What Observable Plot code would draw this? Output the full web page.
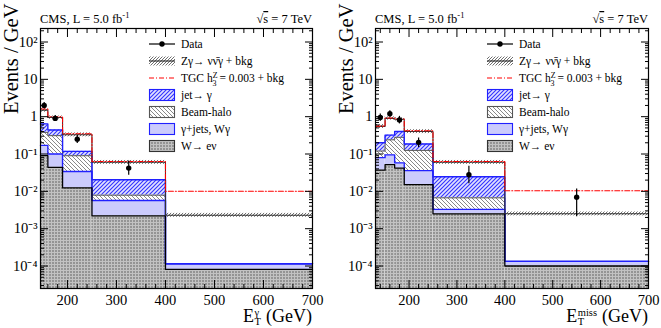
<!DOCTYPE html>
<html>
<head>
<meta charset="utf-8">
<script src="https://cdn.jsdelivr.net/npm/d3@7"></script>
<script src="https://cdn.jsdelivr.net/npm/@observablehq/plot@0.6"></script>
<style>
  body { margin: 0; background: #fff; }
  #wrap { display: flex; width: 661px; height: 328px; }
  #wrap > div { flex: none; }
  #wrap svg { display: block; max-width: none; }
  #wrap svg text { font-family: "Liberation Serif", "Times New Roman", serif; }
</style>
</head>
<body>
<!-- shared fill patterns for the stacked histograms -->
<svg width="0" height="0" style="position:absolute">
  <defs>
    <pattern id="pW" patternUnits="userSpaceOnUse" width="3" height="3">
      <rect width="3" height="3" fill="#949494"/>
      <path d="M0,0.5H3M0.5,0V3" stroke="#c2c2c2" stroke-width="1"/>
    </pattern>
    <pattern id="pHalo" patternUnits="userSpaceOnUse" width="4" height="4">
      <rect width="4" height="4" fill="#ffffff"/>
      <path d="M-1,-1L5,5M-1,3L1,5M3,-1L5,1" stroke="#7a7a7a" stroke-width="0.9"/>
    </pattern>
    <pattern id="pJet" patternUnits="userSpaceOnUse" width="4" height="4">
      <rect width="4" height="4" fill="#e2e2ff"/>
      <path d="M-1,5L5,-1M-1,1L1,-1M3,5L5,3" stroke="#3535ff" stroke-width="1.15"/>
    </pattern>
    <pattern id="pZg" patternUnits="userSpaceOnUse" width="3" height="3">
      <rect width="3" height="3" fill="#ffffff"/>
      <path d="M-1,4L4,-1M-1,1L1,-1M2,4L4,2" stroke="#555555" stroke-width="0.85"/>
    </pattern>
  </defs>
</svg>
<div id="wrap"><div id="left"></div><div id="right"></div></div>
<script>
// ---- photon E_T distribution (events / GeV) ----
const phoEdges   = [145, 160, 190, 250, 400, 700];
const phoWenu    = [0.09, 0.044, 0.0124, 0.0022, 0.000081];
const phoGJets   = [0.08, 0.056, 0.0216, 0.0035, 0.000034];
const phoHalo    = [0.21, 0.21, 0.056, 0.0022, 0];
const phoJetFake = [0.26, 0.13, 0.028, 0.0126, 0];
const phoZg      = [0.86, 0.51, 0.21, 0.0395, 0.00218];
const phoZgUnc   = [0.12, 0.1, 0.12, 0.12, 0.12];
const phoTgc     = [1.6, 1.0, 0.35, 0.063, 0.0101];
const phoDataX   = [152.5, 175, 220, 325];
const phoDataY   = [2.0, 0.9, 0.25, 0.042];
const phoDataLo  = [1.65, 0.74, 0.19, 0.027];
const phoDataHi  = [2.4, 1.08, 0.32, 0.065];

// ---- missing E_T distribution (events / GeV) ----
const metEdges   = [130, 150, 170, 190, 250, 400, 700];
const metWenu    = [0.037, 0.052, 0.042, 0.0152, 0.0025, 0.0001];
const metGJets   = [0.043, 0.043, 0.016, 0.0208, 0.0008, 0.000033];
const metHalo    = [0.04, 0.145, 0.222, 0.089, 0.0034, 0];
const metJetFake = [0.08, 0.08, 0.12, 0.06, 0.0178, 0];
const metZg      = [0.35, 0.58, 0.45, 0.215, 0.0355, 0.00237];
const metZgUnc   = [0.12, 0.1, 0.1, 0.12, 0.12, 0.12];
const metTgc     = [0.56, 0.92, 0.87, 0.42, 0.063, 0.0104];
const metDataX   = [140, 160, 180, 220, 325, 550];
const metDataY   = [0.95, 1.2, 0.82, 0.205, 0.028, 0.007];
const metDataLo  = [0.75, 0.97, 0.64, 0.15, 0.016, 0.0021];
const metDataHi  = [1.18, 1.45, 1.02, 0.27, 0.047, 0.0115];

// ---- axis ticks ----
const yMajor  = [1e-4, 1e-3, 1e-2, 1e-1, 1, 10, 100];
const yLabels = ["10\u207B\u2074", "10\u207B\u00B3", "10\u207B\u00B2", "10\u207B\u00B9", "1", "10", "10\u00B2"];
const xMajor  = [200, 300, 400, 500, 600, 700];
const xLabels = ["200", "300", "400", "500", "600", "700"];

const legendLabels = ["Data", "Z\u03B3\u2192 \u03BD\u03BD\u0304\u03B3 + bkg", "TGC h", "jet\u2192 \u03B3", "Beam-halo", "\u03B3+jets, W\u03B3", "W\u2192 e\u03BD"];

const SERIF = "Liberation Serif, Times New Roman, serif";
const Y_MIN = 2.5e-5, Y_MAX = 230;

const yMinor = [];
for (let d = -5; d <= 2; d++) for (let k = 2; k <= 9; k++) {
  const v = k * Math.pow(10, d);
  if (v > Y_MIN && v < Y_MAX) yMinor.push(v);
}

function cumulate(...layers) {
  const out = [];
  let run = layers[0].map(() => 0);
  for (const l of layers) { run = run.map((r, i) => r + l[i]); out.push(run); }
  return out;
}
function steps(edges, vals) {
  const pts = [];
  vals.forEach((v, i) => { pts.push({x: edges[i], y: v}, {x: edges[i + 1], y: v}); });
  return pts;
}
function bins(edges, lo, hi) {
  return lo.map((l, i) => ({x1: edges[i], x2: edges[i + 1], y1: l, y2: hi[i]})).filter(d => d.y2 > d.y1);
}

function panel(el, cfg) {
  const {edges, wenu, gjets, halo, jetf, zg, unc, tgc, dX, dY, dLo, dHi, xMin, width, mL, mR} = cfg;
  const [c1, c2, c3, c4, tot] = cumulate(wenu, gjets, halo, jetf, zg);
  const floor = wenu.map(() => Y_MIN);
  const data = dX.map((x, i) => ({x, y: dY[i], lo: dLo[i], hi: dHi[i]}));
  const xMinor = d3.range(140, 701, 20).filter(v => v >= xMin && !xMajor.includes(v));

  const chart = Plot.plot({
    width, height: 328,
    marginLeft: mL, marginRight: mR, marginTop: 28, marginBottom: 40,
    x: {domain: [xMin, 700]},
    y: {type: "log", domain: [Y_MIN, Y_MAX]},
    style: {fontFamily: SERIF, fontSize: "14.5px", color: "black", background: "white", overflow: "visible"},
    marks: [
      // stacked backgrounds
      Plot.rect(bins(edges, floor, c1), {x1: "x1", x2: "x2", y1: "y1", y2: "y2", fill: "url(#pW)"}),
      Plot.rect(bins(edges, c1, c2), {x1: "x1", x2: "x2", y1: "y1", y2: "y2", fill: "#cbcbfc"}),
      Plot.rect(bins(edges, c2, c3), {x1: "x1", x2: "x2", y1: "y1", y2: "y2", fill: "url(#pHalo)"}),
      Plot.rect(bins(edges, c3, c4), {x1: "x1", x2: "x2", y1: "y1", y2: "y2", fill: "url(#pJet)"}),
      // uncertainty band on the total expectation
      Plot.rect(bins(edges, tot.map((t, i) => t * (1 - unc[i])), tot.map((t, i) => t * (1 + unc[i]))),
        {x1: "x1", x2: "x2", y1: "y1", y2: "y2", fill: "url(#pZg)"}),
      // histogram outlines
      Plot.line(steps(edges, c3), {x: "x", y: "y", stroke: "#555", strokeWidth: 1}),
      Plot.line(steps(edges, c4), {x: "x", y: "y", stroke: "#2020ff", strokeWidth: 1.4}),
      Plot.line(steps(edges, c2), {x: "x", y: "y", stroke: "#2020ff", strokeWidth: 1.4}),
      Plot.line(steps(edges, c1), {x: "x", y: "y", stroke: "#000", strokeWidth: 1.3}),
      Plot.line(steps(edges, tot), {x: "x", y: "y", stroke: "#333", strokeWidth: 1.1}),
      Plot.line(steps(edges, tgc), {x: "x", y: "y", stroke: "#ff0000", strokeWidth: 1.1, strokeDasharray: "5,2,1,2"}),
      // data with error bars
      Plot.ruleX(data, {x: "x", y1: "lo", y2: "hi", stroke: "black", strokeWidth: 1.2}),
      Plot.dot(data, {x: "x", y: "y", r: 2.7, fill: "black", stroke: "none"}),
      // inward ticks on all four sides
      Plot.axisX(xMajor, {anchor: "bottom", tickSize: -8, tickFormat: () => "", label: null}),
      Plot.axisX(xMinor, {anchor: "bottom", tickSize: -4, tickFormat: () => "", label: null}),
      Plot.axisX(xMajor, {anchor: "top", tickSize: -8, tickFormat: () => "", label: null}),
      Plot.axisX(xMinor, {anchor: "top", tickSize: -4, tickFormat: () => "", label: null}),
      Plot.axisX(xMajor, {anchor: "bottom", tickSize: 0, tickPadding: 6, tickFormat: v => xLabels[xMajor.indexOf(v)], label: null}),
      Plot.axisY(yMajor, {anchor: "left", tickSize: -8, tickFormat: () => "", label: null}),
      Plot.axisY(yMinor, {anchor: "left", tickSize: -4, tickFormat: () => "", label: null}),
      Plot.axisY(yMajor, {anchor: "right", tickSize: -8, tickFormat: () => "", label: null}),
      Plot.axisY(yMinor, {anchor: "right", tickSize: -4, tickFormat: () => "", label: null}),
      Plot.axisY(yMajor, {anchor: "left", tickSize: 0, tickPadding: 3, tickFormat: v => yLabels[yMajor.indexOf(v)], label: null}),
      Plot.frame({stroke: "black", strokeWidth: 1.2})
    ]
  });
  el.appendChild(chart);
  const svg = d3.select(chart);
  const fL = mL, fR = width - mR;

  // header
  const h = svg.append("g").attr("font-size", 12.5).attr("fill", "black").attr("text-anchor", "start");
  const t1 = h.append("text").attr("x", fL).attr("y", 23).text("CMS, L = 5.0 fb");
  t1.append("tspan").attr("font-size", 8.5).attr("dy", -5).text("-1");
  const t2 = h.append("text").attr("x", fR).attr("y", 23).attr("text-anchor", "end");
  t2.append("tspan").text("\u221A");
  t2.append("tspan").attr("text-decoration", "overline").text("s");
  t2.append("tspan").text(" = 7 TeV");

  // y title
  svg.append("text").attr("font-size", 20.5).attr("text-anchor", "start").attr("fill", "black")
    .attr("transform", `translate(${fL - 22},114) rotate(-90)`).text("Events / GeV");

  // x title: E_T with a superscript
  const g = svg.append("g").attr("fill", "black").attr("text-anchor", "start");
  const yb = 322;
  const e = g.append("text").attr("x", 0).attr("y", yb).attr("font-size", 18).text("E");
  const wE = e.node().getComputedTextLength();
  const sb = g.append("text").attr("x", wE + 0.5).attr("y", yb + 3).attr("font-size", 10.5).text("T");
  const sp = g.append("text").attr("x", wE + 0.5).attr("y", yb - 6.5).attr("font-size", 10.5).text(cfg.sup);
  const w2 = Math.max(sb.node().getComputedTextLength(), sp.node().getComputedTextLength());
  const rest = g.append("text").attr("x", wE + w2 + 1).attr("y", yb).attr("font-size", 18).text("\u00A0(GeV)");
  const tw = wE + w2 + 1 + rest.node().getComputedTextLength();
  g.attr("transform", `translate(${fR - tw},0)`);

  // legend
  const lx = cfg.legendX, sw = 26, sh = 11;
  const row = i => 44 + 17 * i;
  const L = svg.append("g").attr("font-size", 11.5).attr("text-anchor", "start").attr("fill", "black");
  L.append("line").attr("x1", lx).attr("x2", lx + sw).attr("y1", row(0)).attr("y2", row(0)).attr("stroke", "black").attr("stroke-width", 1.2);
  L.append("circle").attr("cx", lx + sw / 2).attr("cy", row(0)).attr("r", 2.7).attr("fill", "black");
  L.append("rect").attr("x", lx).attr("y", row(1) - 4.5).attr("width", sw).attr("height", 9).attr("fill", "url(#pZg)");
  L.append("line").attr("x1", lx).attr("x2", lx + sw).attr("y1", row(1)).attr("y2", row(1)).attr("stroke", "#333").attr("stroke-width", 1.2);
  L.append("line").attr("x1", lx).attr("x2", lx + sw).attr("y1", row(2)).attr("y2", row(2)).attr("stroke", "#ff0000").attr("stroke-width", 1.1).attr("stroke-dasharray", "5,2,1,2");
  const boxes = [[3, "url(#pJet)", "#2020ff"], [4, "url(#pHalo)", "#555"], [5, "#cbcbfc", "#2020ff"], [6, "url(#pW)", "#333"]];
  for (const [i, f, s] of boxes) {
    L.append("rect").attr("x", lx + 0.5).attr("y", row(i) - sh / 2).attr("width", sw - 1).attr("height", sh)
      .attr("fill", f).attr("stroke", s).attr("stroke-width", 1.1);
  }
  legendLabels.forEach((txt, i) => {
    const t = L.append("text").attr("x", lx + 32).attr("y", row(i) + 4).text(txt);
    if (i === 2) {
      t.append("tspan").attr("font-size", 8).attr("dy", -4.5).text("Z");
      t.append("tspan").attr("font-size", 8).attr("dx", -5).attr("dy", 8).text("3");
      t.append("tspan").attr("dy", -3.5).text(" = 0.003 + bkg");
    }
  });
}

panel(document.getElementById("left"), {
  edges: phoEdges, wenu: phoWenu, gjets: phoGJets, halo: phoHalo, jetf: phoJetFake, zg: phoZg, unc: phoZgUnc,
  tgc: phoTgc, dX: phoDataX, dY: phoDataY, dLo: phoDataLo, dHi: phoDataHi,
  xMin: 145, width: 330, mL: 40, mR: 18, sup: "\u03B3", legendX: 149
});
panel(document.getElementById("right"), {
  edges: metEdges, wenu: metWenu, gjets: metGJets, halo: metHalo, jetf: metJetFake, zg: metZg, unc: metZgUnc,
  tgc: metTgc, dX: metDataX, dY: metDataY, dLo: metDataLo, dHi: metDataHi,
  xMin: 130, width: 331, mL: 45, mR: 13, sup: "miss", legendX: 157
});
</script>
</body>
</html>
